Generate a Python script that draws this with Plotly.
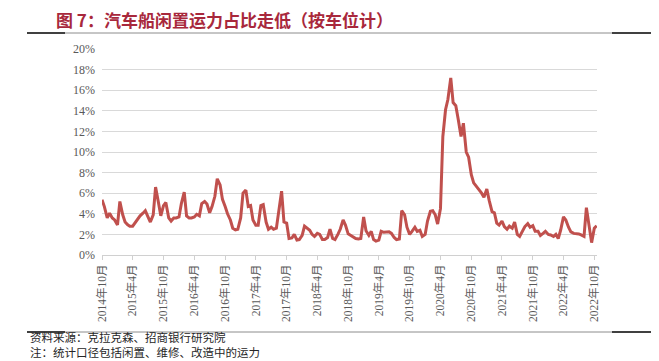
import plotly.graph_objects as go
import pandas as pd

# Semi-monthly readings of idle car-carrier capacity share (%), Oct 2014 - Oct 2022
idle_share = [
    5.36, 4.7, 3.6, 4.06, 3.6, 3.4, 2.92, 5.2, 3.9, 3.2,
    2.95, 2.8, 2.8, 3.1, 3.55, 3.8, 4.06, 4.3, 3.7, 3.2,
    3.9, 6.6, 5.1, 3.8, 4.8, 5.1, 3.6, 3.3, 3.6, 3.6,
    3.7, 5.0, 6.1, 3.8, 3.6, 3.6, 3.7, 3.95, 3.8, 5.0,
    5.2, 4.95, 4.1, 4.7, 5.7, 7.4, 6.8, 5.4, 4.7, 4.0,
    3.4, 2.6, 2.44, 2.5, 3.6, 6.0, 6.3, 4.71, 4.8, 3.4,
    2.9, 2.9, 4.8, 4.9, 3.2, 2.5, 2.7, 2.5, 2.6, 4.1,
    6.2, 3.2, 3.1, 1.6, 1.65, 2.0, 1.46, 1.5, 1.9, 2.8,
    2.55, 2.4, 2.0, 1.8, 2.1, 2.0, 1.5, 1.5, 1.7, 2.5,
    1.6, 1.5, 2.0, 2.5, 3.4, 2.9, 2.05, 1.9, 1.7, 1.6,
    1.55, 1.6, 3.7, 2.35, 1.9, 2.3, 1.5, 1.35, 1.45, 2.3,
    2.2, 2.25, 2.25, 2.1, 1.7, 1.5, 1.55, 4.3, 3.9, 2.7,
    2.0, 2.3, 2.7, 2.3, 2.4, 1.8, 2.0, 3.3, 4.25, 4.3,
    3.9, 3.0, 4.5, 11.5, 14.1, 15.1, 17.2, 14.8, 14.5, 13.2,
    11.5, 12.8, 10.0, 9.5, 7.8, 7.0, 6.65, 6.3, 6.0, 5.6,
    6.4, 5.3, 4.2, 4.1, 3.1, 2.9, 3.3, 2.75, 2.5, 2.8,
    2.6, 3.2, 2.0, 1.8, 2.35, 2.76, 3.05, 2.7, 2.85, 2.3,
    2.3, 1.9, 2.1, 2.3, 2.0, 1.95, 1.8, 2.0, 1.6, 2.4,
    3.7, 3.4, 2.7, 2.25, 2.1, 2.1, 2.05, 1.95, 1.8, 4.6,
    2.9, 1.2, 2.6, 2.85,
]
dates = pd.date_range("2014-10-01", periods=len(idle_share), freq="SMS")

tick_dates = [
    "2014-10-01", "2015-04-01", "2015-10-01", "2016-04-01", "2016-10-01",
    "2017-04-01", "2017-10-01", "2018-04-01", "2018-10-01", "2019-04-01",
    "2019-10-01", "2020-04-01", "2020-10-01", "2021-04-01", "2021-10-01",
    "2022-04-01", "2022-10-01",
]
tick_labels = [
    "2014年10月", "2015年4月", "2015年10月", "2016年4月", "2016年10月",
    "2017年4月", "2017年10月", "2018年4月", "2018年10月", "2019年4月",
    "2019年10月", "2020年4月", "2020年10月", "2021年4月", "2021年10月",
    "2022年4月", "2022年10月",
]
y_ticks = [0, 2, 4, 6, 8, 10, 12, 14, 16, 18, 20]
y_labels = [f"{v}%" for v in y_ticks]

W, H = 659, 361
ML, MR, MT, MB = 102, 62, 49, 106
PW, PH = W - ML - MR, H - MT - MB


def px(xp):
    return (xp - ML) / PW


def py(yp):
    return (H - MB - yp) / PH


serif = "Liberation Serif, Noto Sans CJK SC, serif"
cjk = "Noto Sans CJK SC, sans-serif"

fig = go.Figure(
    go.Scatter(
        x=dates, y=idle_share, mode="lines",
        line=dict(color="#C0504D", width=3),
        hoverinfo="skip",
    )
)

shapes = []
for yl in (33, 332):
    shapes.append(dict(type="line", xref="paper", yref="paper",
                       x0=px(27), x1=px(651), y0=py(yl), y1=py(yl),
                       line=dict(color="#8C8C8C", width=1)))
    shapes.append(dict(type="line", xref="paper", yref="paper",
                       x0=px(27), x1=px(65), y0=py(yl), y1=py(yl),
                       line=dict(color="#404040", width=2)))
    shapes.append(dict(type="line", xref="paper", yref="paper",
                       x0=px(612), x1=px(651), y0=py(yl), y1=py(yl),
                       line=dict(color="#404040", width=2)))

annotations = [
    dict(text="<b>图 7：汽车船闲置运力占比走低（按车位计）</b>", xref="paper", yref="paper",
         x=px(54), y=py(19), xanchor="left", yanchor="middle", showarrow=False,
         font=dict(family=cjk, size=17, color="#A8283C")),
    dict(text="资料来源：克拉克森、招商银行研究院<br>注：统计口径包括闲置、维修、改造中的运力",
         xref="paper", yref="paper", align="left",
         x=px(29), y=py(361), xanchor="left", yanchor="bottom", showarrow=False,
         borderpad=0,
         font=dict(family=cjk, size=11.5, color="#262626")),
]

fig.update_layout(
    width=W, height=H,
    margin=dict(l=ML, r=MR, t=MT, b=MB, pad=0, autoexpand=False),
    paper_bgcolor="white", plot_bgcolor="white",
    showlegend=False,
    shapes=shapes,
    annotations=annotations,
    xaxis=dict(
        type="date", range=["2014-10-01", "2022-10-17"], automargin=False,
        tickmode="array", tickvals=tick_dates, ticktext=tick_labels,
        tickangle=-90, ticks="outside", ticklen=4, tickcolor="#D0D0D0",
        showline=True, linecolor="#D0D0D0", linewidth=1,
        showgrid=False, zeroline=False,
        tickfont=dict(family=serif, size=11.5, color="#595959"),
    ),
    yaxis=dict(
        range=[0, 20], tickmode="array", tickvals=y_ticks, ticktext=y_labels,
        automargin=False,
        showgrid=True, gridcolor="#D9D9D9", gridwidth=1,
        zeroline=False, showline=False, ticks="",
        ticklabelstandoff=6,
        tickfont=dict(family=serif, size=12, color="#595959"),
    ),
)

fig.write_html(
    "out.html",
    config={"displayModeBar": False, "staticPlot": True},
    post_script="document.body.style.margin='0';document.body.style.padding='0';"
                "document.documentElement.style.overflow='hidden';",
)
